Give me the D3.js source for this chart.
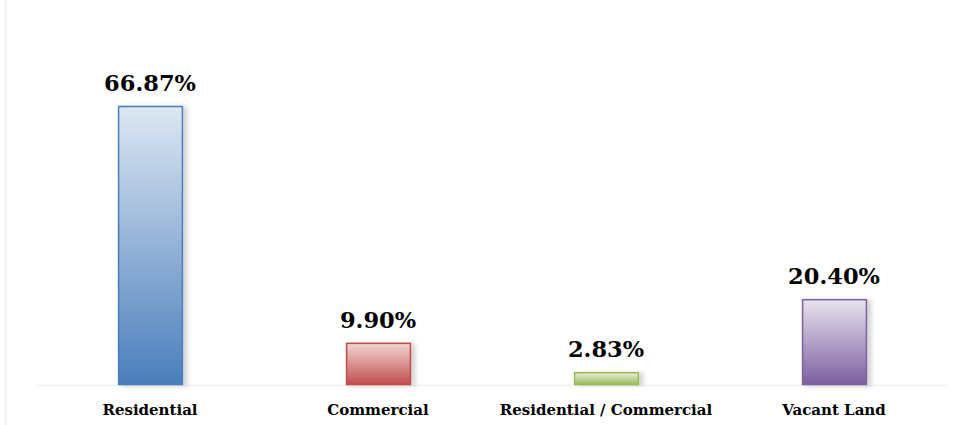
<!DOCTYPE html>
<html>
<head>
<meta charset="utf-8">
<script src="https://cdn.jsdelivr.net/npm/d3@7.9.0/dist/d3.min.js"></script>
<style>
  html, body { margin: 0; padding: 0; background: #fff; }
  svg { display: block; }
</style>
</head>
<body>
<svg id="chart" width="961" height="425"></svg>
<script>
// data
const categories = ['Residential', 'Commercial', 'Residential / Commercial', 'Vacant Land'];
const shares = [66.87, 9.90, 2.83, 20.40];
const topColors = ['#dde7f3', '#f0d4d3', '#e8efd9', '#e8e3ee'];
const bottomColors = ['#4a7ebb', '#c0504d', '#9bbb59', '#7d5fa0'];
const strokeColors = ['#4a7ebb', '#be4b48', '#98b954', '#7d60a0'];

const svg = d3.select('#chart');
const width = 961, height = 425;
const baseY = 384;

let x = d3.scaleBand().domain(categories).range([36, 948]).paddingInner(0.72).paddingOuter(0.36);
let y = d3.scaleLinear().domain([0, 66.87]).range([baseY, 106]);

let defs = svg.append('defs');
categories.forEach((c, i) => {
    let g = defs.append('linearGradient')
        .attr('id', 'grad' + i)
        .attr('x1', 0).attr('y1', 0).attr('x2', 0).attr('y2', 1);
    g.append('stop').attr('offset', '0%').attr('stop-color', topColors[i]);
    g.append('stop').attr('offset', '100%').attr('stop-color', bottomColors[i]);
});

// soft shadow to the right of each bar
let f = defs.append('filter').attr('id', 'shadow')
    .attr('x', '-20%').attr('y', '-20%').attr('width', '160%').attr('height', '140%');
f.append('feDropShadow')
    .attr('dx', 4).attr('dy', 1).attr('stdDeviation', 2.5)
    .attr('flood-color', '#000').attr('flood-opacity', 0.18);

// faint left edge line
svg.append('line')
    .attr('x1', 5.5).attr('x2', 5.5).attr('y1', 0).attr('y2', height)
    .attr('stroke', '#f0f0f0').attr('stroke-width', 1.5);

// faint baseline
svg.append('line')
    .attr('x1', 36).attr('x2', 948).attr('y1', baseY + 1.5).attr('y2', baseY + 1.5)
    .attr('stroke', '#f0f0f0').attr('stroke-width', 1.5);

// bars
svg.selectAll('rect.bar')
    .data(shares)
    .join('rect')
    .attr('class', 'bar')
    .attr('x', (d, i) => x(categories[i]) + 0.5)
    .attr('y', d => y(d) + 0.5)
    .attr('width', x.bandwidth())
    .attr('height', d => baseY - y(d))
    .attr('fill', (d, i) => `url(#grad${i})`)
    .attr('stroke', (d, i) => strokeColors[i])
    .attr('stroke-width', 1.5)
    .attr('filter', 'url(#shadow)');

// value labels
svg.selectAll('text.value')
    .data(shares)
    .join('text')
    .attr('class', 'value')
    .attr('x', (d, i) => x(categories[i]) + x.bandwidth() / 2)
    .attr('y', d => y(d) - 15)
    .attr('text-anchor', 'middle')
    .style('font-family', '"DejaVu Serif", serif')
    .style('font-weight', 'bold')
    .style('font-size', '22.5px')
    .attr('fill', '#000')
    .text(d => d.toFixed(2) + '%');

// category labels
svg.selectAll('text.cat')
    .data(categories)
    .join('text')
    .attr('class', 'cat')
    .attr('x', d => x(d) + x.bandwidth() / 2)
    .attr('y', 415)
    .attr('text-anchor', 'middle')
    .style('font-family', '"DejaVu Serif", serif')
    .style('font-weight', 'bold')
    .style('font-size', '15px')
    .attr('fill', '#000')
    .text(d => d);
</script>
</body>
</html>
